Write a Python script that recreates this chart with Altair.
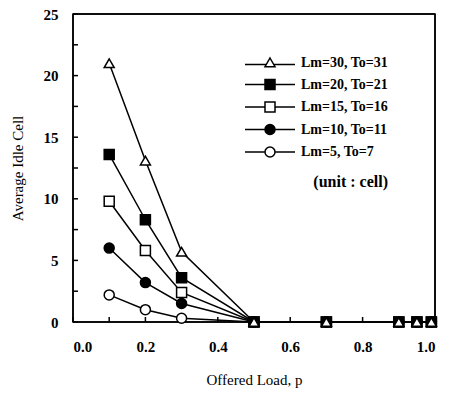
import altair as alt
import pandas as pd

loads = [0.1, 0.2, 0.3, 0.5, 0.7, 0.9, 0.95, 0.99]
series = ["Lm=5, To=7", "Lm=10, To=11", "Lm=15, To=16", "Lm=20, To=21", "Lm=30, To=31"]
idle_lm5 = [2.2, 1.0, 0.3, 0, 0, 0, 0, 0]
idle_lm10 = [6.0, 3.2, 1.5, 0, 0, 0, 0, 0]
idle_lm15 = [9.8, 5.8, 2.4, 0, 0, 0, 0, 0]
idle_lm20 = [13.6, 8.3, 3.6, 0, 0, 0, 0, 0]
idle_lm30 = [21.0, 13.1, 5.7, 0, 0, 0, 0, 0]
values = [idle_lm5, idle_lm10, idle_lm15, idle_lm20, idle_lm30]

x_ticks = [0.0, 0.1, 0.2, 0.3, 0.4, 0.5, 0.6, 0.7, 0.8, 0.9, 1.0]
y_ticks = [0, 2.5, 5, 7.5, 10, 12.5, 15, 17.5, 20, 22.5, 25]
x_labels = [0, 0.2, 0.4, 0.6, 0.8, 1.0]
y_labels = [0, 5, 10, 15, 20, 25]

FONT = "Liberation Serif"
W, H = 362, 308
XMIN, XMAX = x_labels[0], x_labels[-1]
YMIN, YMAX = y_labels[0], y_labels[-1]
TICK_PX = 5
dx = TICK_PX * (XMAX - XMIN) / W
dy = TICK_PX * (YMAX - YMIN) / H

rows = []
for s, vals in zip(series, values):
    for x, v in zip(loads, vals):
        rows.append({"kind": "data", "p": x, "idle": v, "series": s, "gid": s})
# inward ticks, each a two-point segment through the scales
for i, t in enumerate(x_ticks):
    rows.append({"kind": "tick", "p": t, "idle": YMIN, "series": "", "gid": f"x{i}"})
    rows.append({"kind": "tick", "p": t, "idle": YMIN + dy, "series": "", "gid": f"x{i}"})
for i, t in enumerate(y_ticks):
    rows.append({"kind": "tick", "p": XMIN, "idle": t, "series": "", "gid": f"y{i}"})
    rows.append({"kind": "tick", "p": XMIN + dx, "idle": t, "series": "", "gid": f"y{i}"})
# plot frame, four two-point segments
frame_segments = {
    "fl": [(XMIN, YMIN), (XMIN, YMAX)],
    "ft": [(XMIN, YMAX), (XMAX, YMAX)],
    "fr": [(XMAX, YMIN), (XMAX, YMAX)],
    "fb": [(XMIN, YMIN), (XMAX, YMIN)],
}
for gid, pts in frame_segments.items():
    for fx, fy in pts:
        rows.append({"kind": "frame", "p": fx, "idle": fy, "series": "", "gid": gid})
df = pd.DataFrame(rows)

legend_order = ["Lm=30, To=31", "Lm=20, To=21", "Lm=15, To=16", "Lm=10, To=11", "Lm=5, To=7"]
plot_shapes = ["triangle-up", "square", "square", "circle", "circle"]
fills = ["white", "black", "white", "black", "white"]
strokes = ["black"] * 5
tri = "M-5,0.3L-0.75,0.3M0.75,0.3L5,0.3M0,-1L1,0.75L-1,0.75Z"
sq = "M-5,0L-1,0M1,0L5,0M-1,-1L1,-1L1,1L-1,1Z"
circ = "M-5,0L-1,0M1,0L5,0M1,0A1,1,0,1,1,-1,0A1,1,0,1,1,1,0Z"
legend_shapes = [tri, sq, sq, circ, circ]

xdom = alt.Scale(domain=[XMIN, XMAX])
ydom = alt.Scale(domain=[YMIN, YMAX])

base = alt.Chart(df)

# data lines, frame and ticks all in one line layer
lines = base.mark_line(color="black", strokeWidth=1.5).encode(
    x=alt.X("p:Q", scale=xdom, title="Offered Load, p",
            axis=alt.Axis(values=x_labels, format=".1f", ticks=False, domain=False,
                          grid=False, labelPadding=17, titlePadding=18,
                          labelFont=FONT, labelFontSize=15, labelFontWeight="bold", labelColor="black",
                          titleFont=FONT, titleFontSize=15, titleFontWeight="normal", titleColor="black")),
    y=alt.Y("idle:Q", scale=ydom, title="Average Idle Cell",
            axis=alt.Axis(values=y_labels, ticks=False, domain=False, grid=False,
                          labelPadding=15, titlePadding=18,
                          labelFont=FONT, labelFontSize=15, labelFontWeight="bold", labelColor="black",
                          titleFont=FONT, titleFontSize=15, titleFontWeight="normal", titleColor="black")),
    detail="gid:N",
)

points = base.transform_filter("datum.kind === 'data'").mark_point(
    color="black", stroke="black", strokeWidth=1.5, size=100, opacity=1, fillOpacity=1).encode(
    x=alt.X("p:Q", scale=xdom),
    y=alt.Y("idle:Q", scale=ydom),
    shape=alt.Shape("series:N", scale=alt.Scale(domain=legend_order, range=plot_shapes), legend=None),
    fill=alt.Fill("series:N", scale=alt.Scale(domain=legend_order, range=fills), legend=None),
)

legend_layer = base.transform_filter("false").mark_point(
    strokeWidth=1.5, size=100, opacity=1, fillOpacity=1).encode(
    x=alt.X("p:Q", scale=xdom),
    y=alt.Y("idle:Q", scale=ydom),
    shape=alt.Shape("series:N", scale=alt.Scale(domain=legend_order, range=legend_shapes),
                    title="(unit : cell)",
                    legend=alt.Legend(orient="none", legendX=190, legendY=42, titleOrient="bottom",
                                      titleFont=FONT, titleFontSize=16, titleFontWeight="bold",
                                      titleColor="black", titlePadding=14, titleAnchor="end",
                                      labelFont=FONT, labelFontSize=14, labelFontWeight="bold",
                                      labelColor="black", labelOffset=24,
                                      symbolSize=100, symbolStrokeWidth=1.5, rowPadding=6.5)),
    fill=alt.Fill("series:N", scale=alt.Scale(domain=legend_order, range=fills), title="(unit : cell)"),
    stroke=alt.Stroke("series:N", scale=alt.Scale(domain=legend_order, range=strokes), title="(unit : cell)"),
)

chart = alt.layer(lines, points, legend_layer).resolve_scale(
    shape="independent", fill="independent", stroke="independent"
).properties(
    width=W, height=H,
    autosize=alt.AutoSizeParams(type="none"),
    padding={"left": 73, "top": 14, "right": 23, "bottom": 73},
    background="white",
).configure_view(stroke="black", strokeWidth=1.5)

chart.save("out.html", embed_options={"renderer": "svg", "actions": False})
